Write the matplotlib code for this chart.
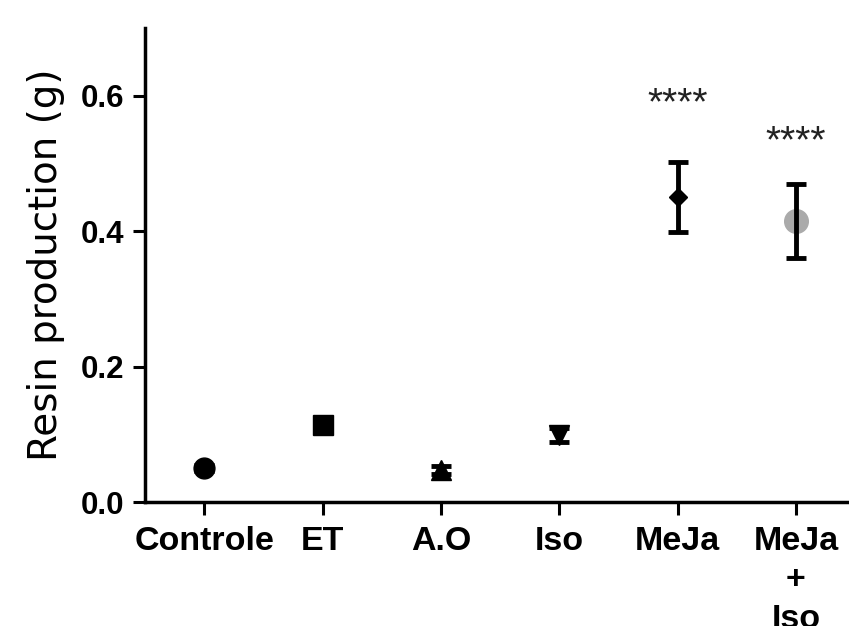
import matplotlib.pyplot as plt

plt.rcParams['font.family'] = ['Liberation Sans', 'DejaVu Sans']

groups = ['Controle', 'ET', 'A.O', 'Iso', 'MeJa', 'MeJa\n+\nIso']
means = [0.050, 0.113, 0.047, 0.099, 0.450, 0.415]
errors = [0.004, 0.006, 0.006, 0.010, 0.052, 0.055]
markers = ['o', 's', '^', 'v', 'D', 'o']
sizes = [15, 15, 15, 15, 9, 17]
colours = ['black', 'black', 'black', 'black', 'black', '#aaaaaa']
stars = ['', '', '', '', '****', '****']
star_y = [0, 0, 0, 0, 0.573, 0.517]

fig = plt.figure(figsize=(8.49, 6.26), dpi=100)
ax = fig.add_axes([145 / 849, 124 / 626, 710 / 849, 474 / 626])

for i in range(len(groups)):
    ax.plot(i, means[i], marker=markers[i], ms=sizes[i], color=colours[i],
            linestyle='none', zorder=2)
    ax.errorbar(i, means[i], yerr=errors[i], fmt='none', ecolor='black',
                elinewidth=3.5, capsize=7, capthick=3.5, zorder=3)
    if stars[i]:
        ax.text(i, star_y[i], stars[i], ha='center', va='baseline',
                fontsize=28, color='#222222')

ax.set_xlim(-0.5, 5.5)
ax.set_ylim(0, 0.7)
ax.set_xticks(range(len(groups)))
ax.set_xticklabels(groups, fontsize=24.5, fontweight='bold', linespacing=1.35)
ax.set_yticks([0.0, 0.2, 0.4, 0.6])
ax.set_yticklabels(['0.0', '0.2', '0.4', '0.6'], fontsize=22.5, fontweight='bold')
ax.set_ylabel('Resin production (g)', fontsize=28, family='DejaVu Sans')
ax.yaxis.set_label_coords(-0.113, 0.5)

for side in ['top', 'right']:
    ax.spines[side].set_visible(False)
for side in ['left', 'bottom']:
    ax.spines[side].set_linewidth(2.5)
ax.tick_params(axis='both', direction='out', length=9, width=2.2)
ax.tick_params(axis='y', pad=6)
ax.tick_params(axis='x', pad=8)

fig.savefig('out.png', dpi=100)
